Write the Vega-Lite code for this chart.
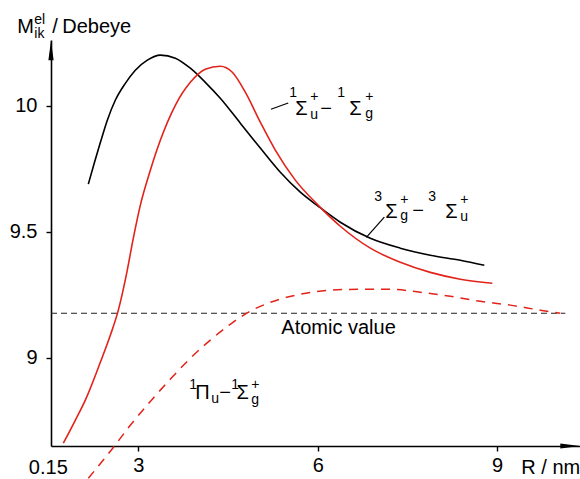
{
  "$schema": "https://vega.github.io/schema/vega-lite/v6.json",
  "width": 529,
  "height": 406,
  "autosize": "none",
  "padding": {"left": 51, "top": 40, "right": 0, "bottom": 33},
  "background": "white",
  "config": {"view": {"stroke": null}, "font": "Liberation Sans"},
  "datasets": {
    "black": [
      {"x": 2.164, "y": 9.688}, {"x": 2.264, "y": 9.772}, {"x": 2.365, "y": 9.853}, {"x": 2.482, "y": 9.942},
      {"x": 2.615, "y": 10.021}, {"x": 2.783, "y": 10.088}, {"x": 2.95, "y": 10.14}, {"x": 3.151, "y": 10.18},
      {"x": 3.368, "y": 10.2},
      {"x": 3.619, "y": 10.188}, {"x": 3.87, "y": 10.148}, {"x": 4.12, "y": 10.092}, {"x": 4.371, "y": 10.029},
      {"x": 4.706, "y": 9.93}, {"x": 5.04, "y": 9.831}, {"x": 5.375, "y": 9.735}, {"x": 5.709, "y": 9.656},
      {"x": 6.01, "y": 9.6}, {"x": 6.378, "y": 9.537}, {"x": 6.88, "y": 9.473}, {"x": 7.381, "y": 9.434},
      {"x": 7.883, "y": 9.406}, {"x": 8.385, "y": 9.386}, {"x": 8.786, "y": 9.366}
    ],
    "red": [
      {"x": 1.746, "y": 8.66}, {"x": 1.946, "y": 8.751}, {"x": 2.114, "y": 8.831}, {"x": 2.365, "y": 8.981},
      {"x": 2.532, "y": 9.088}, {"x": 2.666, "y": 9.188}, {"x": 2.799, "y": 9.327}, {"x": 2.916, "y": 9.473},
      {"x": 3.033, "y": 9.604}, {"x": 3.201, "y": 9.743}, {"x": 3.368, "y": 9.862}, {"x": 3.619, "y": 10.001},
      {"x": 3.87, "y": 10.092}, {"x": 4.12, "y": 10.144}, {"x": 4.371, "y": 10.156}, {"x": 4.572, "y": 10.132},
      {"x": 4.789, "y": 10.053}, {"x": 5.04, "y": 9.934}, {"x": 5.291, "y": 9.823}, {"x": 5.625, "y": 9.704},
      {"x": 6.01, "y": 9.604}, {"x": 6.378, "y": 9.521}, {"x": 6.88, "y": 9.434}, {"x": 7.381, "y": 9.378},
      {"x": 7.883, "y": 9.338}, {"x": 8.385, "y": 9.311}, {"x": 8.92, "y": 9.295}
    ],
    "redDashed": [
      {"x": 2.164, "y": 8.521}, {"x": 2.532, "y": 8.628}, {"x": 2.866, "y": 8.731}, {"x": 3.201, "y": 8.826},
      {"x": 3.535, "y": 8.914}, {"x": 3.87, "y": 8.997}, {"x": 4.204, "y": 9.069}, {"x": 4.538, "y": 9.132},
      {"x": 4.873, "y": 9.184}, {"x": 5.207, "y": 9.219}, {"x": 5.709, "y": 9.251}, {"x": 6.211, "y": 9.267},
      {"x": 6.712, "y": 9.271}, {"x": 7.214, "y": 9.271}, {"x": 7.716, "y": 9.259}, {"x": 8.217, "y": 9.243},
      {"x": 8.719, "y": 9.223}, {"x": 9.221, "y": 9.208}, {"x": 9.722, "y": 9.188}, {"x": 10.057, "y": 9.176}
    ],
    "atomic": [{"x": 1.54, "y": 9.176}, {"x": 10.14, "y": 9.176}],
    "leaders": [
      {"g": "a", "x": 5.218, "y": 9.985}, {"g": "a", "x": 5.507, "y": 10.01},
      {"g": "b", "x": 6.813, "y": 9.477}, {"g": "b", "x": 7.114, "y": 9.557}
    ],
    "arrows": [
      {"dir": "up", "x": 1.54, "y": 10.219},
      {"dir": "right", "x": 10.224, "y": 8.649}
    ],
    "glyphs": [
      {"x": 5.625, "y": 9.961, "t": "Σ"}, {"x": 6.043, "y": 9.961, "t": "−"}, {"x": 6.528, "y": 9.961, "t": "Σ"},
      {"x": 7.13, "y": 9.553, "t": "Σ"}, {"x": 7.582, "y": 9.557, "t": "−"}, {"x": 8.134, "y": 9.553, "t": "Σ"},
      {"x": 3.953, "y": 8.834, "t": "Π"}, {"x": 4.355, "y": 8.834, "t": "−"}, {"x": 4.64, "y": 8.834, "t": "Σ"},
      {"x": 5.391, "y": 9.092, "t": "Atomic value"},
      {"x": 0.977, "y": 10.287, "t": "M"}, {"x": 1.562, "y": 10.287, "t": "/"}, {"x": 1.729, "y": 10.287, "t": "Debeye"},
      {"x": 9.405, "y": 8.537, "t": "R / nm"}
    ],
    "scripts": [
      {"x": 5.525, "y": 10.033, "t": "1"}, {"x": 5.876, "y": 9.946, "t": "u"}, {"x": 5.876, "y": 10.017, "t": "+"},
      {"x": 6.328, "y": 10.033, "t": "1"}, {"x": 6.796, "y": 9.95, "t": "g"}, {"x": 6.796, "y": 10.017, "t": "+"},
      {"x": 6.946, "y": 9.621, "t": "3"}, {"x": 7.381, "y": 9.545, "t": "g"}, {"x": 7.381, "y": 9.608, "t": "+"},
      {"x": 7.849, "y": 9.621, "t": "3"}, {"x": 8.385, "y": 9.541, "t": "u"}, {"x": 8.385, "y": 9.608, "t": "+"},
      {"x": 3.853, "y": 8.874, "t": "1"}, {"x": 4.221, "y": 8.819, "t": "u"},
      {"x": 4.555, "y": 8.874, "t": "1"}, {"x": 4.89, "y": 8.815, "t": "g"}, {"x": 4.89, "y": 8.874, "t": "+"},
      {"x": 1.261, "y": 10.323, "t": "el"}, {"x": 1.261, "y": 10.267, "t": "ik"}
    ],
    "origin": [{"x": 1.495, "y": 8.537, "t": "0.15"}]
  },
  "encoding": {
    "x": {
      "field": "x", "type": "quantitative",
      "scale": {"domain": [1.54, 10.386], "nice": false, "zero": false},
      "axis": {
        "values": [3, 6, 9], "title": null, "grid": false,
        "domainColor": "black", "domainWidth": 1.6, "tickColor": "black", "tickWidth": 1.4, "tickSize": 5,
        "labelFontSize": 20, "labelColor": "black", "labelPadding": 4, "labelFont": "Liberation Sans"
      }
    },
    "y": {
      "field": "y", "type": "quantitative",
      "scale": {"domain": [8.649, 10.26], "nice": false, "zero": false},
      "axis": {
        "values": [9, 9.5, 10], "title": null, "grid": false,
        "domainColor": "black", "domainWidth": 1.6, "tickColor": "black", "tickWidth": 1.4, "tickSize": 5,
        "labelFontSize": 20, "labelColor": "black", "labelPadding": 9, "labelFont": "Liberation Sans",
        "labelExpr": "datum.value == 9 ? '9' : datum.value == 10 ? '10' : datum.label"
      }
    }
  },
  "layer": [
    {"data": {"name": "atomic"}, "mark": {"type": "line", "color": "#222", "strokeWidth": 1.1, "strokeDash": [6, 4]}, "encoding": {}},
    {"data": {"name": "redDashed"}, "mark": {"type": "line", "color": "#e2231a", "strokeWidth": 1.5, "strokeDash": [9, 7], "interpolate": "monotone"}, "encoding": {}},
    {"data": {"name": "black"}, "mark": {"type": "line", "color": "black", "strokeWidth": 1.6, "interpolate": "monotone"}, "encoding": {}},
    {"data": {"name": "red"}, "mark": {"type": "line", "color": "#e2231a", "strokeWidth": 1.6, "interpolate": "monotone"}, "encoding": {}},
    {"data": {"name": "leaders"}, "mark": {"type": "line", "color": "black", "strokeWidth": 1.2}, "encoding": {"detail": {"field": "g"}}},
    {
      "data": {"name": "arrows"},
      "mark": {"type": "point", "filled": true, "color": "black", "size": 400, "opacity": 1},
      "encoding": {
        "shape": {"field": "dir", "type": "nominal", "legend": null,
          "scale": {"domain": ["up", "right"], "range": ["M0,-1L0.26,1L-0.26,1Z", "M1,0L-1,-0.26L-1,0.26Z"]}}
      }
    },
    {"data": {"name": "glyphs"}, "mark": {"type": "text", "fontSize": 20, "align": "left", "baseline": "alphabetic", "color": "black"}, "encoding": {"text": {"field": "t"}}},
    {"data": {"name": "scripts"}, "mark": {"type": "text", "fontSize": 14, "align": "left", "baseline": "alphabetic", "color": "black"}, "encoding": {"text": {"field": "t"}}},
    {"data": {"name": "origin"}, "mark": {"type": "text", "fontSize": 20, "align": "center", "baseline": "alphabetic", "color": "black"}, "encoding": {"text": {"field": "t"}}}
  ]
}
